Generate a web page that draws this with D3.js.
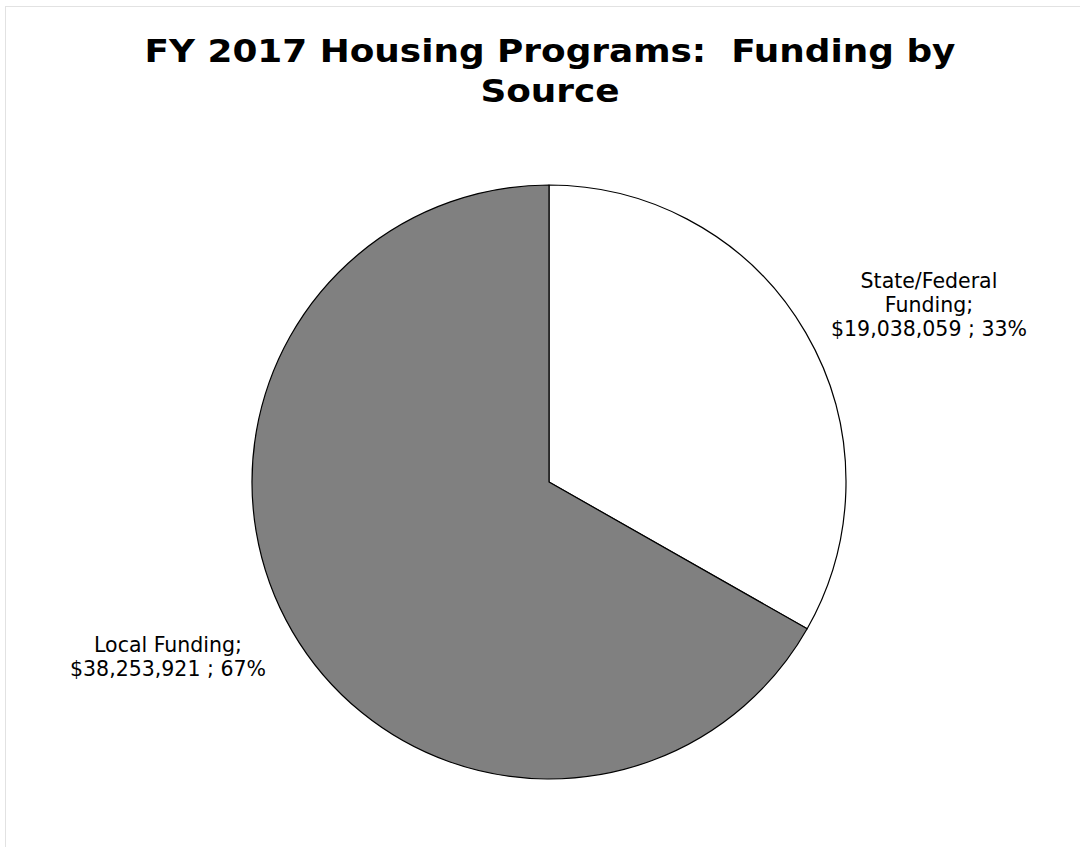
<!DOCTYPE html>
<html>
<head>
<meta charset="utf-8">
<script src="https://cdn.jsdelivr.net/npm/d3@7"></script>
<style>
  html, body { margin: 0; padding: 0; background: #fff; }
  svg { display: block; }
  text { white-space: pre; }
</style>
</head>
<body>
<svg id="chart" width="1080" height="847"></svg>
<script>
// Funding sources for FY 2017 housing programs
const sources = ["State/Federal Funding", "Local Funding"];
const amounts = [19038059, 38253921];
const percentLabels = ["33%", "67%"];
const labelLines = [
  ["State/Federal", "Funding;", "$19,038,059 ; 33%"],
  ["Local Funding;", "$38,253,921 ; 67%"]
];
const titleLines = ["FY 2017 Housing Programs:  Funding by", "Source"];
const sliceColors = ["#ffffff", "#808080"];

const W = 1080, H = 847;
const svg = d3.select("#chart");
const FONT = "DejaVu Sans, Verdana, sans-serif";

// faint frame around the chart area
svg.append("rect")
  .attr("x", 5.5).attr("y", 6.5)
  .attr("width", W + 10).attr("height", H - 4)
  .attr("fill", "none")
  .attr("stroke", "#e2e2e2")
  .attr("stroke-width", 1);

// title, widened horizontally like a wide bold face
const titleG = svg.append("g")
  .attr("transform", "translate(550,0) scale(1.1,1)");
titleLines.forEach((line, k) => {
  titleG.append("text")
    .attr("x", 0)
    .attr("y", 62 + k * 40)
    .attr("text-anchor", "middle")
    .attr("font-family", FONT)
    .attr("font-weight", "bold")
    .attr("font-size", 32.6)
    .attr("fill", "#000")
    .text(line);
});

// pie
const cx = 549, cy = 482, r = 297;
const data = sources.map((s, i) => ({ source: s, amount: amounts[i], i }));
const pie = d3.pie().value(d => d.amount).sort(null);
const arc = d3.arc().innerRadius(0).outerRadius(r);
const arcs = pie(data);

const g = svg.append("g").attr("transform", `translate(${cx},${cy})`);
g.selectAll("path.slice")
  .data(arcs)
  .join("path")
  .attr("class", "slice")
  .attr("d", arc)
  .attr("fill", d => sliceColors[d.data.i])
  .attr("stroke", "#000")
  .attr("stroke-width", 1.2)
  .attr("stroke-linejoin", "round");

// data labels placed outside their slices
const labelPos = [
  { x: 929, y: 288 },
  { x: 168, y: 652 }
];
arcs.forEach((a, i) => {
  const t = svg.append("text")
    .attr("text-anchor", "middle")
    .attr("font-family", FONT)
    .attr("font-size", 20.5)
    .attr("fill", "#000");
  labelLines[i].forEach((line, k) => {
    t.append("tspan")
      .attr("x", labelPos[i].x)
      .attr("y", labelPos[i].y + k * 23.8)
      .text(line);
  });
});
</script>
</body>
</html>
